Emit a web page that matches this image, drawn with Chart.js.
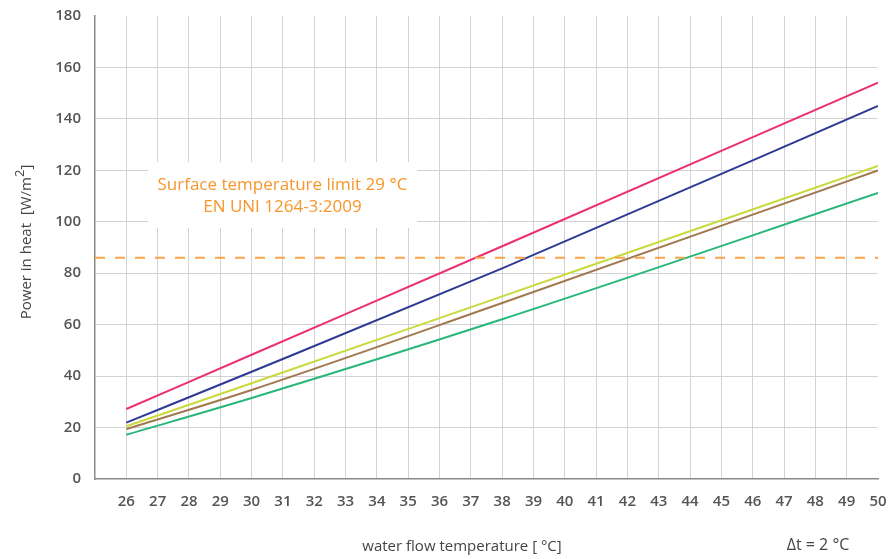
<!DOCTYPE html>
<html lang="en">
<head>
  <meta charset="UTF-8">
  <title>Power in heat vs water flow temperature</title>
  <script src="https://cdn.jsdelivr.net/npm/chart.js"></script>
  <style>
    html, body { margin: 0; padding: 0; background: #fff; }
    #wrap { width: 890px; height: 559px; }
  </style>
</head>
<body>

<div id="wrap"><canvas id="powerChart" width="890" height="559"></canvas></div>

<script>
// values (W/m2 at the given flow temperature)
const flowTemps = [26, 30, 38, 50];
const pinkVals   = [27.2, 48.3, 90.5, 154.1];
const blueVals   = [21.9, 41.7, 81.9, 145.0];
const yellowVals = [20.5, 37.2, 71.0, 121.7];
const brownVals  = [19.4, 34.6, 68.4, 120.0];
const greenVals  = [17.2, 31.5, 62.1, 111.2];

const limitRange = [25, 50];
const limitValue = 86;
const limitText = ['Surface temperature limit 29 °C', 'EN UNI 1264-3:2009'];

const xTitle = 'water flow temperature [ °C]';
const deltaText = 'Δt = 2 °C';

function pts(vals) {
  return flowTemps.map((t, i) => ({ x: t, y: vals[i] }));
}

function lineSet(vals, color) {
  return {
    data: pts(vals),
    borderColor: color,
    borderWidth: 2,
    pointRadius: 0,
    cubicInterpolationMode: 'monotone',
    fill: false
  };
}

const notes = {
  id: 'notes',
  beforeDatasetsDraw(chart) {
    const { ctx, scales: { x, y } } = chart;
    // white label box over the grid
    const l = x.getPixelForValue(26.69), r = x.getPixelForValue(35.28);
    const t = y.getPixelForValue(123.3), b = y.getPixelForValue(97.6);
    ctx.save();
    ctx.fillStyle = '#ffffff';
    ctx.fillRect(l, t, r - l, b - t);
    ctx.fillStyle = '#f7962a';
    ctx.font = '17px "Open Sans"';
    ctx.textAlign = 'center';
    ctx.textBaseline = 'middle';
    ctx.fillText(limitText[0], (l + r) / 2, t + 23);
    ctx.fillText(limitText[1], (l + r) / 2, t + 45);
    ctx.restore();
  },
  afterDraw(chart) {
    const { ctx } = chart;
    ctx.save();
    ctx.fillStyle = '#444';
    ctx.font = '15px "Open Sans"';
    ctx.textBaseline = 'middle';
    ctx.textAlign = 'center';
    ctx.fillText(xTitle, 462, 547);
    ctx.font = '16px "Open Sans"';
    ctx.fillText(deltaText, 818, 545);

    // y title with superscript 2
    ctx.translate(27, 242);
    ctx.rotate(-Math.PI / 2);
    const a = 'Power in heat  [W/m', s = '2', c = ']';
    ctx.font = '15px "Open Sans"';
    const wa = ctx.measureText(a).width, wc = ctx.measureText(c).width;
    ctx.font = '13px "Open Sans"';
    const ws = ctx.measureText(s).width;
    let x0 = -(wa + ws + wc) / 2;
    ctx.textAlign = 'left';
    ctx.font = '15px "Open Sans"';
    ctx.fillText(a, x0, 0);
    ctx.font = '13px "Open Sans"';
    ctx.fillText(s, x0 + wa, -7);
    ctx.font = '15px "Open Sans"';
    ctx.fillText(c, x0 + wa + ws, 0);
    ctx.restore();
  }
};

const ctx = document.getElementById('powerChart').getContext('2d');
new Chart(ctx, {
  type: 'line',
  data: {
    datasets: [
      {
        data: limitRange.map(v => ({ x: v, y: limitValue })),
        borderColor: '#f8a44a',
        borderWidth: 2,
        borderDash: [10, 10],
        pointRadius: 0
      },
      lineSet(pinkVals, '#ec2f75'),
      lineSet(blueVals, '#2e3a94'),
      lineSet(yellowVals, '#c9d93a'),
      lineSet(brownVals, '#a2784f'),
      lineSet(greenVals, '#27b77a')
    ]
  },
  options: {
    responsive: false,
    animation: false,
    devicePixelRatio: 1,
    layout: { padding: { left: 0, top: 16, right: 12, bottom: 0 } },
    plugins: {
      legend: { display: false },
      tooltip: { enabled: false }
    },
    scales: {
      x: {
        type: 'linear',
        min: 25,
        max: 50,
        afterFit: s => { s.height = 80; s.paddingLeft = 0; s.paddingRight = 0; },
        border: { color: '#8a8a8a', width: 1.5 },
        grid: {
          drawTicks: false,
          color: c => (c.tick.value === 25 || c.tick.value === 50) ? 'rgba(0,0,0,0)' : '#d2d2d2'
        },
        ticks: {
          stepSize: 1,
          padding: 14,
          color: '#555',
          font: { family: 'Open Sans', size: 15, weight: 600 },
          callback: v => v === 25 ? '' : v
        }
      },
      y: {
        min: 0,
        max: 180,
        afterFit: s => { s.width = 95; s.paddingTop = 0; s.paddingBottom = 0; },
        border: { color: '#8a8a8a', width: 1.5 },
        grid: {
          drawTicks: false,
          color: c => (c.tick.value === 0 || c.tick.value === 180) ? 'rgba(0,0,0,0)' : '#d2d2d2'
        },
        ticks: {
          stepSize: 20,
          padding: 14,
          color: '#555',
          font: { family: 'Open Sans', size: 15, weight: 600 }
        }
      }
    }
  },
  plugins: [notes]
});
</script>

</body>
</html>
